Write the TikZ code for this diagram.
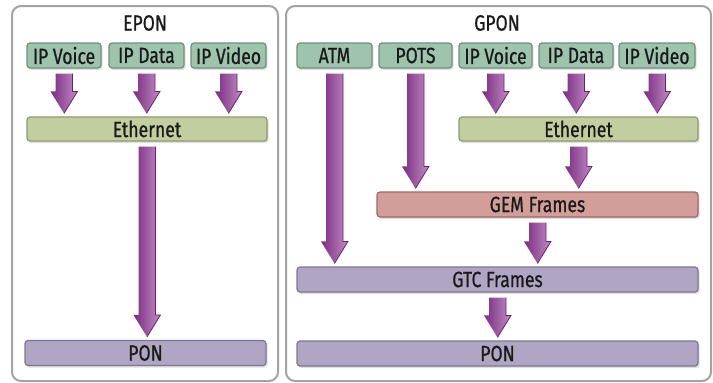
\documentclass[tikz,border=0pt]{standalone}
\usepackage{fontspec}
\setmainfont{Fira Sans}[FakeStretch=0.8, FakeBold=0.8]
\usetikzlibrary{calc,shadows}
\definecolor{panelgray}{HTML}{A3A3A3}
\definecolor{topfill}{HTML}{9FC4AE}
\definecolor{topdraw}{HTML}{6F8F7C}
\definecolor{ethfill}{HTML}{C3CEA0}
\definecolor{ethdraw}{HTML}{8E9A70}
\definecolor{gemfill}{HTML}{D39E99}
\definecolor{gemdraw}{HTML}{9A6A66}
\definecolor{ponfill}{HTML}{B0A6C4}
\definecolor{pondraw}{HTML}{7E7592}
\definecolor{arrdark}{HTML}{7A2B80}
\definecolor{arrlight}{HTML}{C08CC4}
\definecolor{arredge}{HTML}{6A1F70}
\definecolor{txt}{HTML}{1A1A1A}
\tikzset{
  panel/.style={draw=panelgray, line width=2pt, rounded corners=9pt},
  title/.style={font=\fontsize{22}{24}\selectfont, text=txt},
  layerbox/.style={rounded corners=3pt, line width=1.2pt, font=\fontsize{22}{24}\selectfont, text=txt,
     inner sep=0pt, drop shadow={opacity=0.25, shadow xshift=1.5pt, shadow yshift=-2pt}},
  topbox/.style={layerbox, fill=topfill, draw=topdraw, minimum height=25pt},
  ethbox/.style={layerbox, fill=ethfill, draw=ethdraw, minimum height=24pt},
  gembox/.style={layerbox, fill=gemfill, draw=gemdraw, minimum height=25pt},
  ponbox/.style={layerbox, fill=ponfill, draw=pondraw, minimum height=25pt},
}
\newcommand\fatarrow[2]{%
  \shade[left color=arrdark, right color=arrlight] let \p1=(#1.south), \p2=(#2.north) in
    (\x1-8.5pt,\y1-5pt) -- (\x1+8.5pt,\y1-5pt) -- (\x1+8.5pt,\y2+25pt) -- (\x1+13.5pt,\y2+25pt)
    -- (\x1,\y2+3pt) -- (\x1-13.5pt,\y2+25pt) -- (\x1-8.5pt,\y2+25pt) -- cycle;
  \draw[arredge, line width=0.8pt] let \p1=(#1.south), \p2=(#2.north) in
    (\x1+8.5pt,\y1-5pt) -- (\x1+8.5pt,\y2+25pt) -- (\x1+13.5pt,\y2+25pt) -- (\x1,\y2+3pt);
}
\begin{document}
\begin{tikzpicture}[x=1pt,y=-1pt]
\fill[white] (0,0) rectangle (713,383);
\useasboundingbox (0,0) rectangle (713,383);
% panels
\draw[panel] (12,6) rectangle (278,381);
\draw[panel] (286,6) rectangle (711,381);
\node[title] (eponT) at (145,23) {EPON};
\node[title] (gponT) at (497,23) {GPON};
% EPON
\node[topbox, minimum width=74pt] (evoice) at (64,55.5) {IP Voice};
\node[topbox, minimum width=75pt] (edata) at (146.5,55.5) {IP Data};
\node[topbox, minimum width=75pt] (evideo) at (228.5,55.5) {IP Video};
\node[ethbox, minimum width=240pt] (eeth) at (147,129) {Ethernet};
\node[ponbox, minimum width=241pt] (epon) at (145.5,353) {PON};
% GPON
\node[topbox, minimum width=75pt] (atm) at (334.5,55.5) {ATM};
\node[topbox, minimum width=73pt] (pots) at (415.5,55.5) {POTS};
\node[topbox, minimum width=73pt] (gvoice) at (495.5,55.5) {IP Voice};
\node[topbox, minimum width=74pt] (gdata) at (576,55.5) {IP Data};
\node[topbox, minimum width=76pt] (gvideo) at (657,55.5) {IP Video};
\node[ethbox, minimum width=239pt] (geth) at (578.5,129) {Ethernet};
\node[gembox, minimum width=321pt] (gem) at (537.5,204.5) {GEM Frames};
\node[ponbox, minimum width=401pt] (gtc) at (497.5,279.5) {GTC Frames};
\node[ponbox, minimum width=401pt] (gpon) at (497.5,353.5) {PON};
% arrows EPON
\fatarrow{evoice}{eeth}
\fatarrow{edata}{eeth}
\fatarrow{evideo}{eeth}
\fatarrow{eeth}{epon}
% arrows GPON
\fatarrow{atm}{gtc}
\fatarrow{pots}{gem}
\fatarrow{gvoice}{geth}
\fatarrow{gdata}{geth}
\fatarrow{gvideo}{geth}
\fatarrow{geth}{gem}
\fatarrow{gem}{gtc}
\fatarrow{gtc}{gpon}
\end{tikzpicture}
\end{document}
